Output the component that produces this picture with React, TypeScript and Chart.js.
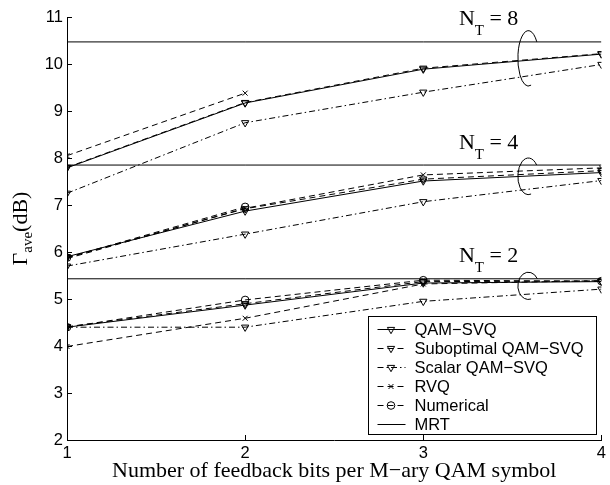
import React, { useEffect, useRef } from 'react';
import { Chart, registerables } from 'chart.js';

Chart.register(...registerables);

// ---------- data ----------
const bits = [1, 2, 3, 4];
const xTickValues = [1, 2, 3, 4];
const yTickValues = [2, 3, 4, 5, 6, 7, 8, 9, 10, 11];

// N_T = 8
const mrt8 = [10.47, 10.47, 10.47, 10.47];
const qamSvq8 = [7.79, 9.17, 9.89, 10.21];
const subopt8 = [7.8, 9.18, 9.91, 10.22];
const scalar8 = [7.25, 8.75, 9.4, 9.99];
const rvq8 = [8.05, 9.38];

// N_T = 4
const mrt4 = [7.85, 7.85, 7.85, 7.85];
const qamSvq4 = [5.9, 6.87, 7.51, 7.69];
const subopt4 = [5.88, 6.92, 7.55, 7.73];
const scalar4 = [5.7, 6.38, 7.07, 7.52];
const rvq4 = [5.86, 6.93, 7.64, 7.79];
const num4 = [5.88, 6.96];

// N_T = 2
const mrt2 = [5.43, 5.43, 5.43, 5.43];
const qamSvq2 = [4.4, 4.87, 5.34, 5.37];
const subopt2 = [4.41, 4.9, 5.37, 5.38];
const scalar2 = [4.4, 4.4, 4.95, 5.21];
const rvq2 = [3.99, 4.59, 5.32, 5.39];
const num2 = [4.4, 4.98, 5.4, 5.38];

const groupNames = ['8', '4', '2'];
const groupMrt = [mrt8[0], mrt4[0], mrt2[0]];
const legendLabels = ['QAM\u2212SVQ', 'Suboptimal QAM\u2212SVQ', 'Scalar QAM\u2212SVQ', 'RVQ', 'Numerical', 'MRT'];
const xTitle = 'Number of feedback bits per M\u2212ary QAM symbol';

// ---------- styles ----------
const SERIF = '"Liberation Serif", "Times New Roman", serif';
const SANS = '"Liberation Sans", Arial, sans-serif';
const DASH = [6, 4];
const DASHDOT = [6, 3, 1.5, 3];

type Kind = 'qam' | 'sub' | 'sca' | 'rvq' | 'num' | 'mrt';
const kindStyle: Record<Kind, { dash: number[]; marker: string | false }> = {
  qam: { dash: [], marker: 'tri' },
  sub: { dash: DASH, marker: 'tri' },
  sca: { dash: DASHDOT, marker: 'tri' },
  rvq: { dash: DASH, marker: 'cross' },
  num: { dash: DASH, marker: 'circle' },
  mrt: { dash: [], marker: false },
};
const legendKinds: Kind[] = ['qam', 'sub', 'sca', 'rvq', 'num', 'mrt'];

// annotation placement (data coords)
const labelXData = 3.2;
const ellipseXData = 3.59;
const ellipseYData = [10.12, 7.61, 5.28];
const ellipseHalfH = [0.59, 0.39, 0.29];

function makeDataset(values: number[], kind: Kind) {
  const st = kindStyle[kind];
  const ds: any = {
    data: values.map((v, i) => ({ x: bits[i], y: v })),
    borderColor: '#000',
    borderWidth: 1,
    borderDash: st.dash,
    backgroundColor: 'rgba(0,0,0,0)',
    pointBorderColor: '#000',
    pointBackgroundColor: 'rgba(0,0,0,0)',
    pointBorderWidth: 1,
    tension: 0,
    fill: false,
  };
  if (st.marker === 'tri') {
    ds.pointStyle = 'triangle';
    ds.pointRotation = 180;
    ds.pointRadius = 4.2;
  } else if (st.marker === 'cross') {
    ds.pointStyle = 'crossRot';
    ds.pointRadius = 3.5;
  } else if (st.marker === 'circle') {
    ds.pointStyle = 'circle';
    ds.pointRadius = 3.8;
  } else {
    ds.pointRadius = 0;
  }
  return ds;
}

function drawMarker(ctx: CanvasRenderingContext2D, kind: Kind, x: number, y: number) {
  const m = kindStyle[kind].marker;
  ctx.setLineDash([]);
  ctx.beginPath();
  if (m === 'tri') {
    const r = 4.2;
    ctx.moveTo(x, y + r);
    ctx.lineTo(x - r * Math.sin(Math.PI / 3), y - r / 2);
    ctx.lineTo(x + r * Math.sin(Math.PI / 3), y - r / 2);
    ctx.closePath();
  } else if (m === 'cross') {
    const r = 3.5 * Math.SQRT1_2;
    ctx.moveTo(x - r, y - r);
    ctx.lineTo(x + r, y + r);
    ctx.moveTo(x - r, y + r);
    ctx.lineTo(x + r, y - r);
  } else if (m === 'circle') {
    ctx.arc(x, y, 3.8, 0, Math.PI * 2);
  }
  ctx.stroke();
}

const decorPlugin = {
  id: 'decor',
  afterDraw(chart: any) {
    const { ctx, chartArea } = chart;
    const xs = chart.scales.x;
    const ys = chart.scales.y;
    ctx.save();
    ctx.strokeStyle = '#000';
    ctx.fillStyle = '#000';
    ctx.lineWidth = 1;

    // inward tick marks
    ctx.beginPath();
    yTickValues.forEach((v) => {
      const py = Math.round(ys.getPixelForValue(v)) + 0.5;
      ctx.moveTo(chartArea.left, py);
      ctx.lineTo(chartArea.left + 5, py);
    });
    xTickValues.forEach((v) => {
      const px = Math.round(xs.getPixelForValue(v)) + 0.5;
      ctx.moveTo(px, chartArea.bottom);
      ctx.lineTo(px, chartArea.bottom - 5);
    });
    ctx.stroke();

    // N_T labels and ellipses
    groupNames.forEach((name, i) => {
      const mrtY = ys.getPixelForValue(groupMrt[i]);
      let tx = xs.getPixelForValue(labelXData);
      ctx.textAlign = 'left';
      ctx.textBaseline = 'alphabetic';
      ctx.font = `22px ${SERIF}`;
      ctx.fillText('N', tx, mrtY - 16.5);
      tx += ctx.measureText('N').width;
      ctx.font = `15px ${SERIF}`;
      ctx.fillText('T', tx, mrtY - 6.5);
      tx += ctx.measureText('T').width;
      ctx.font = `22px ${SERIF}`;
      ctx.fillText(' = ' + name, tx, mrtY - 16.5);

      const cx = xs.getPixelForValue(ellipseXData);
      const cy = ys.getPixelForValue(ellipseYData[i]);
      const ry = Math.abs(ys.getPixelForValue(ellipseYData[i] + ellipseHalfH[i]) - cy);
      const rx = 10.5;
      const s = Math.max(-0.95, Math.min(0.95, (mrtY - cy) / ry));
      const start = Math.asin(s);
      ctx.beginPath();
      ctx.setLineDash([]);
      ctx.ellipse(cx, cy, rx, ry, 0, start, (75 * Math.PI) / 180, true);
      ctx.stroke();
    });

    // legend box
    const bw = 228;
    const bh = 118;
    const bx = Math.round(chartArea.right - 5 - bw) + 0.5;
    const by = Math.round(chartArea.bottom - 6 - bh) + 0.5;
    ctx.fillStyle = '#fff';
    ctx.fillRect(bx, by, bw, bh);
    ctx.strokeStyle = '#000';
    ctx.setLineDash([]);
    ctx.strokeRect(bx, by, bw, bh);
    ctx.fillStyle = '#000';
    ctx.font = `16.5px ${SANS}`;
    ctx.textBaseline = 'middle';
    ctx.textAlign = 'left';
    legendKinds.forEach((k, i) => {
      const ry2 = Math.round(by + 12 + i * 19) + 0.5;
      ctx.beginPath();
      ctx.setLineDash(kindStyle[k].dash);
      ctx.moveTo(bx + 9, ry2);
      ctx.lineTo(bx + 37, ry2);
      ctx.stroke();
      drawMarker(ctx, k, bx + 22.5, ry2);
      ctx.fillText(legendLabels[i], bx + 46, ry2 + 1);
    });

    // y-axis title: Γ_ave(dB)
    const cyT = (chartArea.top + chartArea.bottom) / 2;
    ctx.save();
    ctx.translate(27, cyT);
    ctx.rotate(-Math.PI / 2);
    ctx.textBaseline = 'alphabetic';
    ctx.font = `22px ${SERIF}`;
    const wG = ctx.measureText('\u0393').width;
    const wD = ctx.measureText('(dB)').width;
    ctx.font = `15px ${SERIF}`;
    const wS = ctx.measureText('ave').width;
    let sx = -(wG + wS + wD) / 2;
    ctx.font = `22px ${SERIF}`;
    ctx.fillText('\u0393', sx, 0);
    sx += wG;
    ctx.font = `15px ${SERIF}`;
    ctx.fillText('ave', sx, 5);
    sx += wS;
    ctx.font = `22px ${SERIF}`;
    ctx.fillText('(dB)', sx, 0);
    ctx.restore();

    // x-axis title
    ctx.font = `22px ${SERIF}`;
    ctx.textAlign = 'center';
    ctx.textBaseline = 'alphabetic';
    ctx.fillText(xTitle, (chartArea.left + chartArea.right) / 2, 477);

    ctx.restore();
  },
};

export default function App() {
  const ref = useRef<HTMLCanvasElement | null>(null);
  useEffect(() => {
    if (!ref.current) return;
    const datasets = [
      makeDataset(mrt8, 'mrt'),
      makeDataset(scalar8, 'sca'),
      makeDataset(rvq8, 'rvq'),
      makeDataset(subopt8, 'sub'),
      makeDataset(qamSvq8, 'qam'),
      makeDataset(mrt4, 'mrt'),
      makeDataset(scalar4, 'sca'),
      makeDataset(rvq4, 'rvq'),
      makeDataset(num4, 'num'),
      makeDataset(subopt4, 'sub'),
      makeDataset(qamSvq4, 'qam'),
      makeDataset(mrt2, 'mrt'),
      makeDataset(scalar2, 'sca'),
      makeDataset(rvq2, 'rvq'),
      makeDataset(num2, 'num'),
      makeDataset(subopt2, 'sub'),
      makeDataset(qamSvq2, 'qam'),
    ];
    const chart = new Chart(ref.current, {
      type: 'line',
      data: { datasets },
      options: {
        animation: false,
        responsive: false,
        maintainAspectRatio: false,
        layout: { padding: { left: 0, top: 17, right: 6, bottom: 0 } },
        plugins: { legend: { display: false }, tooltip: { enabled: false } },
        scales: {
          x: {
            type: 'linear',
            min: 1,
            max: 4,
            afterFit: (s: any) => {
              s.height = 45;
            },
            ticks: {
              stepSize: 1,
              color: '#000',
              padding: 4,
              font: { family: SANS, size: 16.5 },
            },
            grid: { display: false, drawTicks: false },
            border: { display: true, color: '#000', width: 1 },
          },
          y: {
            type: 'linear',
            min: 2,
            max: 11,
            afterFit: (s: any) => {
              s.width = 67;
            },
            ticks: {
              stepSize: 1,
              color: '#000',
              padding: 4,
              font: { family: SANS, size: 16.5 },
            },
            grid: { display: false, drawTicks: false },
            border: { display: true, color: '#000', width: 1 },
          },
        },
      } as any,
      plugins: [decorPlugin],
    });
    return () => chart.destroy();
  }, []);
  return (
    <div style={{ position: 'fixed', left: 0, top: 0, width: 610, height: 485, background: '#fff' }}>
      <canvas ref={ref} width={610} height={485} style={{ width: 610, height: 485, display: 'block' }} />
    </div>
  );
}
